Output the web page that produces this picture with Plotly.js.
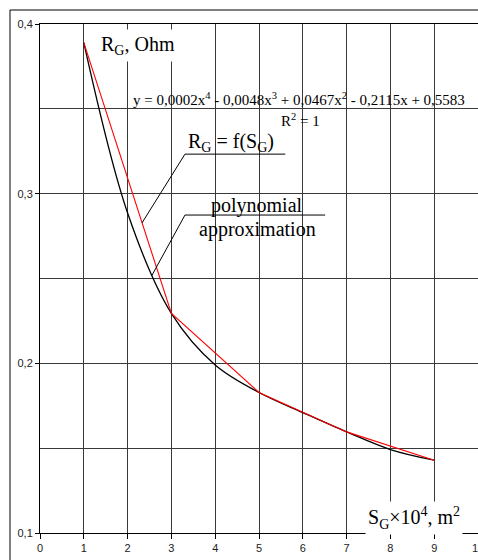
<!DOCTYPE html>
<html>
<head>
<meta charset="utf-8">
<script src="https://cdn.plot.ly/plotly-3.0.1.min.js"></script>
<style>
  html, body { margin: 0; padding: 0; background: #fff; }
  #chart { width: 478px; height: 560px; }
</style>
</head>
<body>
<div id="chart"></div>
<script>
// Grounding resistance R_G (Ohm) against grounding area S_G (x10^4 m^2)
const areaMeasured = [1, 3, 5, 7, 9];
const resistanceMeasured = [0.389, 0.2294, 0.1828, 0.1596, 0.1429];

const areaFit = [1, 2, 3, 4, 5, 6, 7, 8, 9];
const resistanceFit = [0.389, 0.2886, 0.2294, 0.199, 0.1828, 0.171, 0.1596, 0.1492, 0.1429];

const xTicks = [0, 1, 2, 3, 4, 5, 6, 7, 8, 9, 10];
const yTicks = [0.1, 0.2, 0.3, 0.4];

const serif = 'Liberation Serif, Times New Roman, serif';
const gridColor = '#3a3a3a';

const traces = [
  {
    x: areaFit, y: resistanceFit, type: 'scatter', mode: 'lines',
    line: { color: '#000000', width: 1.3, shape: 'spline', smoothing: 1 },
    hoverinfo: 'skip'
  },
  {
    x: areaMeasured, y: resistanceMeasured, type: 'scatter', mode: 'lines',
    line: { color: '#ff0000', width: 1.1 },
    hoverinfo: 'skip'
  }
];

const layout = {
  width: 478, height: 560,
  margin: { l: 40, r: 0, t: 24, b: 27 },
  paper_bgcolor: '#ffffff', plot_bgcolor: '#ffffff',
  showlegend: false,
  separators: ', ',
  font: { family: 'Liberation Sans, Arial, sans-serif', size: 11, color: '#222' },
  xaxis: {
    range: [0, 10], tickvals: xTicks, ticktext: xTicks.map(String),
    ticklabeloverflow: 'allow',
    showgrid: true, gridcolor: gridColor, gridwidth: 1,
    showline: true, linecolor: '#000', linewidth: 1, mirror: true,
    ticks: 'outside', ticklen: 5, tickcolor: '#000',
    zeroline: false, fixedrange: true
  },
  yaxis: {
    range: [0.1, 0.4], tickvals: yTicks, ticktext: yTicks.map(v => v.toFixed(1).replace('.', ',')),
    showgrid: true, gridcolor: gridColor, gridwidth: 1,
    minor: { dtick: 0.05, tick0: 0.1, showgrid: true, gridcolor: gridColor, gridwidth: 1, ticks: '' },
    showline: true, linecolor: '#000', linewidth: 1,
    ticks: 'outside', ticklen: 4, tickcolor: '#000',
    zeroline: false, fixedrange: true
  },
  shapes: [
    // outer frame of the figure
    { type: 'rect', xref: 'paper', yref: 'paper', x0: -0.0685, x1: 1.1, y0: -0.2, y1: 1.0275,
      line: { color: '#000', width: 1 }, fillcolor: 'rgba(0,0,0,0)' },
    // callout for the measured dependence
    { type: 'line', xref: 'x', yref: 'y', x0: 3.31, y0: 0.3233, x1: 5.6, y1: 0.3233, line: { color: '#000', width: 1 } },
    { type: 'line', xref: 'x', yref: 'y', x0: 3.31, y0: 0.3233, x1: 2.33, y1: 0.2828, line: { color: '#000', width: 1 } },
    // callout for the polynomial fit
    { type: 'line', xref: 'x', yref: 'y', x0: 3.31, y0: 0.2874, x1: 6.51, y1: 0.2874, line: { color: '#000', width: 1 } },
    { type: 'line', xref: 'x', yref: 'y', x0: 3.31, y0: 0.2874, x1: 2.55, y1: 0.2516, line: { color: '#000', width: 1 } }
  ],
  annotations: [
    { x: 1.3, y: 0.3876, xref: 'x', yref: 'y', xanchor: 'left', yanchor: 'middle', showarrow: false,
      text: 'R<sub>G</sub>, Ohm', font: { family: serif, size: 20, color: '#000' },
      bgcolor: '#ffffff', borderpad: 3 },
    { x: 2.08, y: 0.3557, xref: 'x', yref: 'y', xanchor: 'left', yanchor: 'middle', showarrow: false,
      text: 'y = 0,0002x<sup>4</sup> - 0,0048x<sup>3</sup> + 0,0467x<sup>2</sup> - 0,2115x + 0,5583',
      font: { family: serif, size: 15, color: '#000' } },
    { x: 5.95, y: 0.3432, xref: 'x', yref: 'y', xanchor: 'center', yanchor: 'middle', showarrow: false,
      text: 'R<sup>2</sup> = 1', font: { family: serif, size: 15, color: '#000' } },
    { x: 4.36, y: 0.3303, xref: 'x', yref: 'y', xanchor: 'center', yanchor: 'middle', showarrow: false,
      text: 'R<sub>G</sub> = f(S<sub>G</sub>)', font: { family: serif, size: 20, color: '#000' } },
    { x: 4.95, y: 0.2932, xref: 'x', yref: 'y', xanchor: 'center', yanchor: 'middle', showarrow: false,
      text: 'polynomial', font: { family: serif, size: 20, color: '#000' } },
    { x: 4.97, y: 0.279, xref: 'x', yref: 'y', xanchor: 'center', yanchor: 'middle', showarrow: false,
      text: 'approximation', font: { family: serif, size: 20, color: '#000' } },
    { x: 8.55, y: 0.1087, xref: 'x', yref: 'y', xanchor: 'center', yanchor: 'middle', showarrow: false,
      text: 'S<sub>G</sub>×10<sup>4</sup>, m<sup>2</sup>', font: { family: serif, size: 20, color: '#000' },
      bgcolor: '#ffffff', borderpad: 2 }
  ]
};

Plotly.newPlot('chart', traces, layout, { staticPlot: true, displayModeBar: false });
</script>
</body>
</html>
